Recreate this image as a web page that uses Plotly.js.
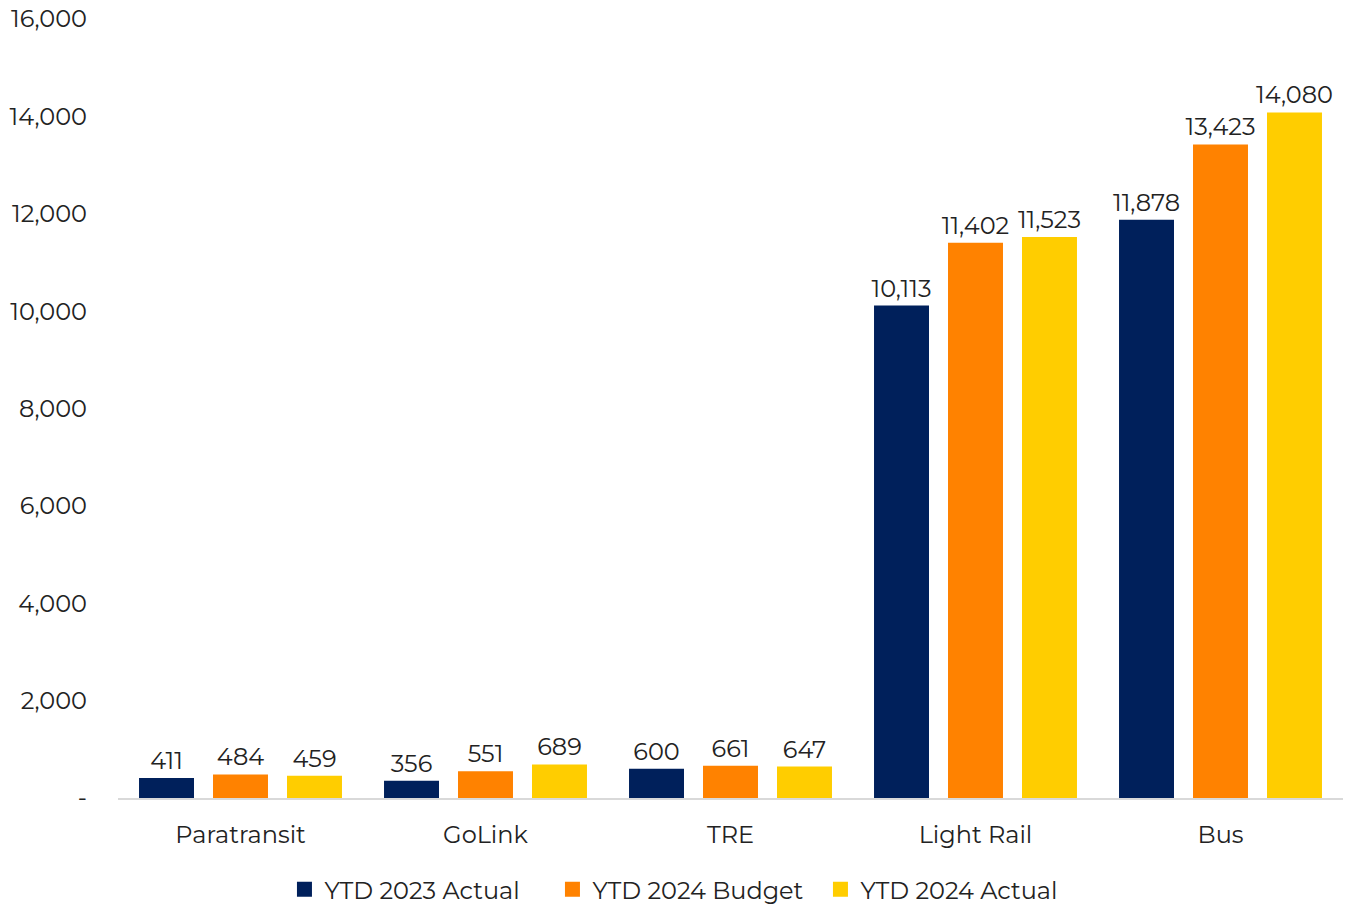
<!DOCTYPE html>
<html>
<head>
<meta charset="utf-8">
<script src="https://cdn.plot.ly/plotly-3.0.1.min.js"></script>
<style>html,body{margin:0;padding:0;background:#fff;}#chart{width:1352px;height:907px;}</style>
</head>
<body>
<div id="chart"></div>
<script>
const categories = ["Paratransit", "GoLink", "TRE", "Light Rail", "Bus"];
const ytd2023Actual = [411, 356, 600, 10113, 11878];
const ytd2024Budget = [484, 551, 661, 11402, 13423];
const ytd2024Actual = [459, 689, 647, 11523, 14080];
const seriesNames = ["YTD 2023 Actual", "YTD 2024 Budget", "YTD 2024 Actual"];
const tickValues = [0, 2000, 4000, 6000, 8000, 10000, 12000, 14000, 16000];
const tickLabels = ["-", "2,000", "4,000", "6,000", "8,000", "10,000", "12,000", "14,000", "16,000"];

const colors = ["#00205B", "#FF8200", "#FFCD00"];
const FONT = "Montserrat, 'DejaVu Sans', sans-serif";
const FS = 24;
const fmt = v => v.toLocaleString("en-US");

const series = [ytd2023Actual, ytd2024Budget, ytd2024Actual];
const traces = series.map((vals, i) => ({
  type: "bar",
  name: seriesNames[i],
  x: categories,
  y: vals,
  marker: {color: colors[i]},
  text: vals.map(fmt),
  textposition: "outside",
  constraintext: "none",
  cliponaxis: false,
  showlegend: false,
  textfont: {family: FONT, size: FS, color: "#222"},
  hoverinfo: "x+y+name"
}));
// legend-only entries with larger square swatches
seriesNames.forEach((n, i) => traces.push({
  type: "scatter", mode: "markers", name: n,
  x: [categories[0]], y: [null],
  marker: {symbol: "square", size: 15, color: colors[i]},
  showlegend: true, hoverinfo: "skip"
}));

const layout = {
  width: 1352, height: 907,
  margin: {l: 118, r: 9, t: 19, b: 109},
  paper_bgcolor: "#fff", plot_bgcolor: "#fff",
  barmode: "group",
  bargap: 0.094,
  bargroupgap: 0.257,
  font: {family: FONT, size: FS, color: "#222"},
  xaxis: {
    showgrid: false, zeroline: false,
    showline: true, linecolor: "#d9d9d9", linewidth: 2,
    ticks: "", tickfont: {family: FONT, size: FS, color: "#222"},
    ticklabelstandoff: 14
  },
  yaxis: {
    range: [0, 16000], showgrid: false, zeroline: false, showline: false,
    tickvals: tickValues, ticktext: tickLabels,
    tickfont: {family: FONT, size: FS, color: "#222"},
    ticklabelstandoff: 30, ticks: ""
  },
  showlegend: true,
  legend: {
    orientation: "h", xref: "container", x: 0.2104, xanchor: "left",
    yref: "container", y: 0.019, yanchor: "middle",
    font: {family: FONT, size: FS, color: "#222"},
    itemwidth: 30, entrywidth: 223, entrywidthmode: "pixels",
    tracegroupgap: 0, traceorder: "normal"
  }
};

Plotly.newPlot("chart", traces, layout, {displayModeBar: false, staticPlot: true});
</script>
</body>
</html>
